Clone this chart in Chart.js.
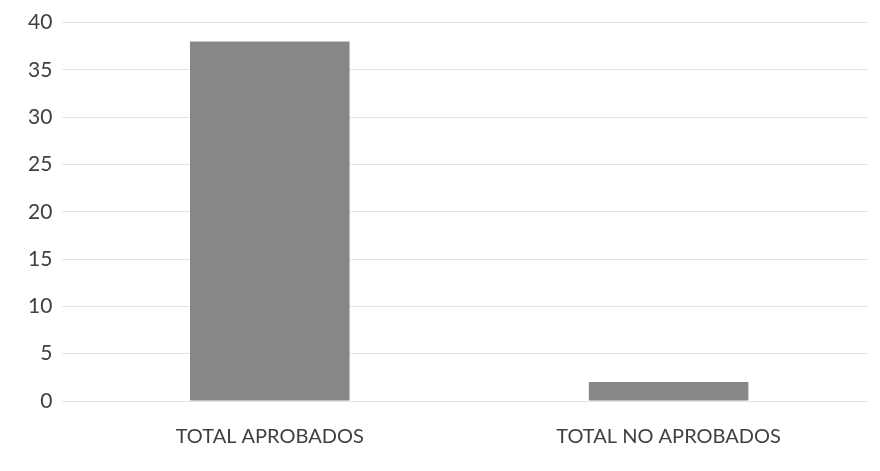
<!DOCTYPE html>
<html lang="es">
<head>
    <meta charset="UTF-8">
    <title>Total aprobados / no aprobados</title>
    <script src="https://cdn.jsdelivr.net/npm/chart.js"></script>
    <style>
        body {
            margin: 0;
            padding: 0;
            background-color: #ffffff;
        }
        .chart-wrapper {
            width: 880px;
            height: 471px;
        }
    </style>
</head>
<body>
    <div class="chart-wrapper">
        <canvas id="barChart"></canvas>
    </div>

    <script>
        // Datos
        const categories = ['TOTAL APROBADOS', 'TOTAL NO APROBADOS'];
        const values = [38, 2];
        const yTicks = [0, 5, 10, 15, 20, 25, 30, 35, 40];

        const ctx = document.getElementById('barChart').getContext('2d');
        new Chart(ctx, {
            type: 'bar',
            data: {
                labels: categories,
                datasets: [{
                    label: 'Total',
                    data: values,
                    backgroundColor: '#878787',
                    borderWidth: 0,
                    barPercentage: 0.4,
                    categoryPercentage: 1.0
                }]
            },
            options: {
                responsive: true,
                maintainAspectRatio: false,
                animation: false,
                layout: {
                    padding: { top: 18, right: 12, bottom: 6, left: 18 }
                },
                plugins: {
                    legend: { display: false },
                    tooltip: { enabled: false }
                },
                scales: {
                    x: {
                        grid: { display: false },
                        border: { display: false },
                        ticks: {
                            color: '#404040',
                            padding: 16,
                            font: { family: 'Lato', size: 20 }
                        }
                    },
                    y: {
                        min: 0,
                        max: 40,
                        afterBuildTicks: function(axis) {
                            axis.ticks = yTicks.map(v => ({ value: v }));
                        },
                        grid: {
                            color: '#e4e4e4',
                            lineWidth: 1,
                            drawTicks: true,
                            tickLength: 8
                        },
                        border: { display: false },
                        ticks: {
                            color: '#404040',
                            padding: 10,
                            font: { family: 'Lato', size: 21 }
                        }
                    }
                }
            }
        });
    </script>
</body>
</html>
